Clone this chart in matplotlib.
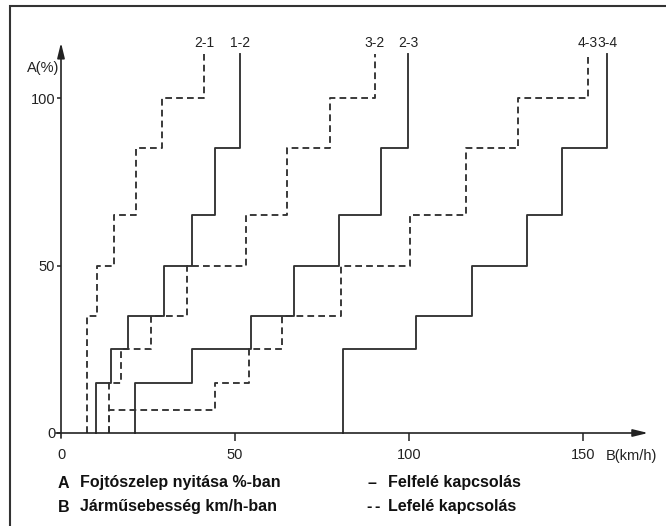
import matplotlib
matplotlib.use("Agg")
import matplotlib.pyplot as plt
from matplotlib.patches import Rectangle

# kapcsolási görbék: függőleges szakaszok x helye (km/h) és a lépcsők szintjei (%)
up_12_x = [10, 14.4, 19.2, 29.7, 37.5, 44.3, 51.4]
up_12_y = [0, 15, 25, 35, 50, 65, 85, 113]
down_21_x = [7.6, 10.3, 15.2, 21.6, 28.9, 41.1]
down_21_y = [0, 35, 50, 65, 85, 100, 113]
up_23_x = [21.4, 37.5, 54.5, 67, 80, 92, 99.7]
up_23_y = [0, 15, 25, 35, 50, 65, 85, 113]
down_32_x = [13.9, 17.2, 26, 36.1, 53.3, 65, 77.3, 90.2]
down_32_y = [0, 15, 25, 35, 50, 65, 85, 100, 113]
up_34_x = [81, 102, 118, 134, 144, 157]
up_34_y = [0, 25, 35, 50, 65, 85, 113]
down_43_x = [13.9, 44.3, 54.1, 63.4, 80.5, 100.3, 116.4, 131.3, 151.4]
down_43_y = [0, 7, 15, 25, 35, 50, 65, 85, 100, 113]

curves = [("2-1", down_21_x, down_21_y, True), ("1-2", up_12_x, up_12_y, False),
          ("3-2", down_32_x, down_32_y, True), ("2-3", up_23_x, up_23_y, False),
          ("4-3", down_43_x, down_43_y, True), ("3-4", up_34_x, up_34_y, False)]

x_ticks = [0, 50, 100, 150]
y_ticks = [0, 50, 100]

FONT = ["Liberation Sans", "DejaVu Sans"]
INK = "#333333"


def stairs(xs, ys):
    """Lépcsős vonal: függőleges x_i-nél y_i -> y_{i+1}, majd vízszintes x_{i+1}-ig."""
    px, py = [], []
    for i, x in enumerate(xs):
        px += [x, x]
        py += [ys[i], ys[i + 1]]
    return px, py


fig = plt.figure(figsize=(6.66, 5.26), dpi=100)
W, H = 666, 526
# tengely: origó a (61, 433) px pontban, 3.48 px/km/h, 3.35 px/%
ax = fig.add_axes([61 / W, (H - 433) / H, 170 * 3.48 / W, 125 * 3.35 / H])
ax.set_xlim(0, 170)
ax.set_ylim(0, 125)
for s in ax.spines.values():
    s.set_visible(False)

for label, xs, ys, dashed in curves:
    px, py = stairs(xs, ys)
    ln, = ax.plot(px, py, color=INK, lw=1.35, clip_on=False)
    if dashed:
        ln.set_dashes((3.6, 2.2))
    ax.text(xs[-1], 116.5, label, ha="center", va="center", fontsize=10,
            family=FONT, color="#222222")

# tengelyek nyíllal
arrow = dict(arrowstyle="-|>,head_length=0.9,head_width=0.22", color="#222222", lw=1.2,
             shrinkA=0, shrinkB=0)
ax.annotate("", xy=(0, 116.5), xytext=(0, -1.5), arrowprops=arrow, annotation_clip=False)
ax.annotate("", xy=(168.7, 0), xytext=(-1.5, 0), arrowprops=arrow, annotation_clip=False)

ax.set_xticks(x_ticks)
ax.set_xticklabels([str(v) for v in x_ticks])
ax.set_yticks(y_ticks)
ax.set_yticklabels([str(v) for v in y_ticks])
ax.tick_params(axis="x", direction="out", length=6, width=1.1, color="#222222", pad=5,
               labelsize=10.5, labelcolor="#222222")
ax.tick_params(axis="y", direction="out", length=3.2, width=1.1, color="#222222", pad=1,
               labelsize=10.5, labelcolor="#222222")
ax.xaxis.get_majorticklines()[0].set_visible(False)
for lab in ax.get_xticklabels() + ax.get_yticklabels():
    lab.set_family(FONT)

ax.text(-5.2, 109, "A(%)", ha="center", va="center", fontsize=10.5, family=FONT, color="#222222")
ax.text(164, -7, "B(km/h)", ha="center", va="center", fontsize=10.5, family=FONT,
        color="#222222", clip_on=False)

# jelmagyarázat
leg = dict(fontsize=11.5, fontweight="bold", family=FONT, va="center", color="#111111")
fig.text(58 / W, 1 - 483 / H, "A", **leg)
fig.text(80 / W, 1 - 483 / H, "Fojtószelep nyitása %-ban", **leg)
fig.text(58 / W, 1 - 507 / H, "B", **leg)
fig.text(80 / W, 1 - 507 / H, "Járműsebesség km/h-ban", **leg)
fig.text(368 / W, 1 - 483 / H, "–", **leg)
fig.text(388 / W, 1 - 483 / H, "Felfelé kapcsolás", **leg)
fig.text(366 / W, 1 - 507 / H, "-", **leg)
fig.text(374 / W, 1 - 507 / H, "-", **leg)
fig.text(388 / W, 1 - 507 / H, "Lefelé kapcsolás", **leg)

# keret (jobb és alsó éle kilóg a képből)
fig.patches.append(Rectangle((9.5 / W, -0.05), 1.0, 1 - 6 / H + 0.05, transform=fig.transFigure,
                             fill=False, edgecolor="#333333", lw=1.5))

fig.savefig("out.png", dpi=100, facecolor="white")
